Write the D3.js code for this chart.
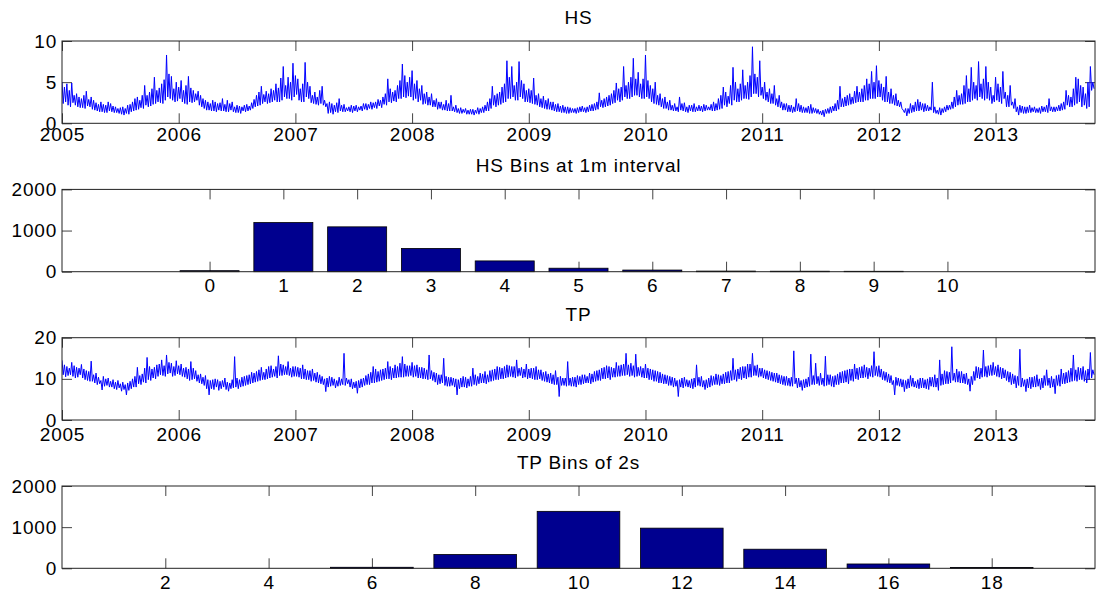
<!DOCTYPE html>
<html>
<head>
<meta charset="utf-8">
<script src="https://cdn.jsdelivr.net/npm/d3@7"></script>
<style>
  body { margin: 0; background: #fff; }
  text { font-family: "Liberation Sans", Arial, sans-serif; font-size: 19px; fill: #000; letter-spacing: 0.8px; }
</style>
</head>
<body>
<svg id="chart"></svg>
<script>
// values: 48 readings a year, plus a second set of
// readings of the same weeks (the "b" arrays), so 96 a year in all
var years = [2005, 2006, 2007, 2008, 2009, 2010, 2011, 2012, 2013];

var hs2005 = [5.0,2.6,4.8,2.0,4.9,2.2,3.6,1.9, 3.0,1.8,3.9,2.0,3.2,1.6,2.5,1.4, 2.6,1.3,2.2,1.5,2.4,1.3,2.0,1.2, 1.9,1.0,1.8,1.1,2.3,1.5,3.0,1.7, 2.8,1.8,4.6,2.0,3.8,2.3,5.6,2.6, 4.3,2.4,5.3,8.3,3.0,5.7,2.6,5.0];
var hs2006 = [3.0,5.2,2.4,4.6,5.7,2.5,4.0,2.8, 3.9,2.0,3.0,1.6,2.6,1.5,2.8,1.4, 2.4,1.5,3.0,1.4,2.8,1.6,2.6,1.3, 2.2,1.2,2.0,1.4,2.3,1.6,2.5,2.0, 3.4,2.2,4.5,2.6,3.9,2.5,4.2,2.8, 4.8,2.6,5.5,6.9,3.0,5.6,2.8,7.3];
var hs2007 = [3.5,5.4,2.6,4.8,7.4,3.0,4.5,2.4, 3.8,2.2,4.0,4.5,2.0,1.2,2.6,1.1, 2.2,1.3,3.0,1.4,2.3,1.5,2.0,1.3, 2.1,1.4,2.0,1.5,2.4,1.6,2.3,1.7, 2.5,1.8,2.9,1.9,3.2,2.2,5.4,2.5, 3.8,2.6,4.6,3.0,7.2,3.1,5.0,3.2];
var hs2008 = [6.4,3.0,5.2,2.8,4.6,2.4,3.8,2.2, 3.6,2.0,3.0,1.8,2.6,1.6,2.8,1.5, 3.4,1.4,2.2,1.2,1.9,1.3,1.8,1.1, 1.7,1.0,1.6,1.1,1.8,1.3,2.2,1.5, 3.0,4.5,2.0,3.6,2.3,4.4,2.6,7.6, 3.0,6.9,2.8,5.0,7.5,3.0,4.8,2.6];
var hs2009 = [4.2,2.4,5.5,2.2,3.6,1.9,3.3,1.7, 3.0,1.6,2.6,1.4,2.4,1.3,2.2,1.2, 2.0,1.3,1.8,1.2,1.9,1.4,2.1,1.3, 2.0,1.5,2.3,1.6,2.6,3.7,1.9,3.0, 2.1,3.4,2.4,4.0,4.9,2.6,4.4,6.9, 3.0,5.0,3.2,7.9,3.4,6.2,3.0,5.4];
var hs2010 = [8.3,3.0,4.6,2.4,5.0,2.2,3.6,1.8, 3.2,1.6,2.8,1.5,2.4,1.4,3.2,1.5, 2.5,1.3,2.2,1.4,2.4,1.5,2.2,1.4, 2.3,1.6,2.0,1.5,2.6,1.6,3.0,1.8, 4.4,2.0,3.3,2.2,6.8,2.6,4.2,2.8, 6.5,3.0,5.0,3.2,9.3,3.6,5.6,7.6];
var hs2011 = [3.0,5.0,2.6,4.2,2.4,4.6,2.0,3.4, 1.6,2.4,1.4,2.2,1.3,2.0,3.0,1.4, 2.2,1.3,1.9,1.2,2.3,1.3,1.8,1.1, 1.5,0.8,1.7,1.2,2.0,1.5,2.4,1.7, 4.5,2.0,3.2,2.2,3.6,2.4,3.9,4.5, 2.6,4.2,2.8,5.4,3.0,6.3,3.0,7.0];
var hs2012 = [3.2,4.8,2.6,5.7,2.4,4.2,2.2,3.6, 2.0,2.6,1.3,0.9,1.8,1.3,2.2,1.5, 2.9,1.6,2.4,1.5,2.2,1.6,5.0,1.2, 1.6,1.0,1.8,1.4,2.2,1.7,2.6,2.0, 4.0,2.3,3.6,2.4,5.8,2.6,6.8,3.0, 4.6,7.5,3.0,5.4,6.9,2.8,4.4,2.6];
var hs2013 = [5.6,2.6,4.4,6.3,2.0,3.4,4.6,1.8, 3.0,1.0,2.2,1.2,2.0,1.3,2.2,1.4, 2.0,1.3,1.9,1.4,2.0,1.3,3.0,1.4, 2.0,1.5,2.2,1.6,2.6,4.0,2.0,3.2, 2.2,5.6,5.4,2.0,4.4,1.8,5.0,6.9, 5.0];

var hs2005b = [2.4,4.4,2.2,4.0,2.5,3.4,2.0,3.2, 1.9,3.4,2.1,2.9,1.7,2.8,1.5,2.3, 1.4,2.3,1.3,2.6,1.4,2.1,1.3,1.8, 1.1,2.0,1.2,2.2,1.4,2.6,1.6,3.2, 1.9,3.4,2.2,3.4,2.1,4.2,2.4,4.0, 2.5,4.8,2.8,3.2,6.0,2.8,4.2,2.7];
var hs2006b = [4.4,2.6,4.0,2.3,2.6,4.3,2.6,3.6, 2.2,3.4,1.8,2.8,1.6,2.4,1.5,2.6, 1.6,2.5,1.5,2.3,1.4,2.4,1.4,2.0, 1.3,2.1,1.5,2.2,1.5,2.1,1.8,2.9, 2.1,3.8,2.4,3.5,2.4,3.6,2.6,4.0, 2.6,4.3,2.8,3.2,4.6,3.0,5.0,3.2];
var hs2007b = [5.8,2.8,4.2,2.6,3.2,5.0,2.5,3.4, 2.3,3.2,2.4,2.2,2.8,2.4,1.3,2.4, 1.4,2.5,1.5,2.2,1.4,1.9,1.4,2.2, 1.5,2.2,1.6,2.1,1.7,2.4,1.8,2.6, 1.9,2.6,2.1,2.8,2.3,3.6,2.6,4.2, 2.7,4.0,3.0,5.2,3.2,5.8,3.3,5.6];
var hs2008b = [2.8,4.8,2.6,4.2,2.3,3.6,2.2,3.2, 2.0,2.8,1.7,2.6,1.6,2.3,1.5,2.4, 1.5,2.0,1.3,1.8,1.2,1.7,1.1,1.6, 1.1,1.7,1.2,1.9,1.3,2.0,1.5,2.6, 1.8,2.2,3.4,2.2,3.8,2.5,4.8,3.0, 5.6,3.2,4.6,2.8,3.2,5.2,2.6,4.0];
var hs2009b = [2.5,4.0,2.3,3.4,2.0,3.0,1.8,2.8, 1.7,2.6,1.5,2.3,1.4,2.1,1.3,2.0, 1.2,1.9,1.3,1.8,1.3,2.0,1.4,1.9, 1.4,2.2,1.5,2.4,1.7,2.0,2.8,2.0, 3.2,2.2,3.6,2.5,2.8,4.2,2.8,3.2, 4.6,3.0,5.6,3.4,5.4,3.2,4.8,3.0];
var hs2010b = [3.2,5.2,2.6,4.2,2.3,3.4,2.0,3.0, 1.8,2.6,1.6,2.2,1.5,2.0,1.6,2.4, 1.4,2.0,1.5,2.2,1.4,2.0,1.5,2.1, 1.5,2.2,1.6,2.3,1.5,2.4,1.7,3.4, 2.2,3.8,2.4,4.6,2.8,5.0,2.6,4.8, 3.0,4.6,2.9,5.8,3.6,6.0,3.2,3.4];
var hs2011b = [4.4,2.8,3.8,2.4,3.6,2.2,3.0,1.9, 2.6,1.6,2.4,1.4,2.2,1.4,1.5,2.4, 1.3,2.0,1.3,2.1,1.2,1.9,1.2,1.7, 1.0,1.6,1.2,1.8,1.3,2.1,1.5,2.8, 2.0,3.0,2.1,3.4,2.3,3.2,2.5,2.6, 3.8,2.6,4.6,2.8,4.8,3.0,5.0,3.2];
var hs2012b = [5.2,2.8,4.4,2.6,3.8,2.4,3.4,2.1, 2.8,1.8,1.6,1.8,1.2,2.4,1.4,2.6, 1.5,2.6,1.4,2.4,1.5,2.0,1.3,2.0, 1.1,1.9,1.3,2.0,1.6,2.2,1.8,3.2, 2.2,3.4,2.3,4.6,2.6,4.2,2.8,5.0, 2.8,3.2,4.8,2.8,3.0,5.0,2.4,3.4];
var hs2013b = [2.8,4.8,2.4,3.0,3.8,2.0,2.2,2.6, 1.4,2.0,1.3,2.1,1.2,2.0,1.3,1.9, 1.3,1.8,1.2,2.1,1.4,2.2,1.5,2.0, 1.4,2.0,1.5,2.4,1.7,2.2,3.4,2.0, 4.2,2.4,2.6,4.6,2.2,3.6,2.0,4.0, 4.2];

var tp2005 = [14.5,10.5,13.0,11.0,14.0,10.2,12.8,11.0, 13.5,9.8,12.0,9.4,14.3,9.0,11.4,8.8, 7.3,10.6,8.4,10.2,8.0,9.8,7.4,9.6, 7.0,9.2,6.1,9.0,7.6,10.0,8.0,12.8, 8.6,11.2,9.0,15.2,9.6,12.4,10.0,13.4, 11.0,14.6,10.6,15.8,11.4,13.8,10.8,14.4];
var tp2006 = [11.0,13.6,10.4,12.8,9.6,14.2,10.0,12.0, 9.0,11.2,8.4,10.8,6.1,9.6,7.4,10.0, 7.2,9.4,8.0,10.2,7.0,9.0,7.8,15.4, 7.6,9.8,8.2,10.6,8.6,11.0,9.0,11.4, 9.4,12.2,9.8,11.6,10.0,13.0,10.4,12.4, 10.2,15.6,10.8,13.4,11.0,14.2,10.4,13.0];
var tp2007 = [10.6,12.8,10.0,13.4,9.8,12.0,9.4,12.4, 9.2,11.6,8.8,10.6,6.9,10.2,8.2,10.4, 7.8,9.6,8.4,10.0,16.2,8.8,9.8,7.6, 9.2,6.5,9.6,8.0,10.2,8.6,11.2,9.0, 13.0,9.2,11.8,9.6,12.4,10.0,14.2,9.8, 12.6,10.2,13.0,10.4,15.4,10.6,13.2,10.8];
var tp2008 = [14.0,10.6,13.4,10.2,12.8,10.0,12.2,15.8, 9.6,11.6,8.6,11.0,9.0,15.0,8.2,10.4, 8.4,10.2,6.1,9.8,8.0,10.6,7.8,10.0, 8.2,12.6,8.4,10.6,9.0,11.2,8.8,11.0, 9.4,12.2,9.8,13.0,10.0,12.6,10.2,13.4, 10.6,13.0,10.2,14.6,10.8,12.8,10.4,13.6];
var tp2009 = [10.2,12.6,9.8,13.0,10.0,12.2,9.4,11.8, 9.0,11.4,8.6,12.0,5.7,10.6,8.4,10.2, 14.2,8.2,10.4,8.0,10.8,8.6,11.0,9.0, 10.6,8.8,11.2,9.4,12.0,9.6,12.6,10.0, 13.2,9.8,12.8,10.4,14.0,10.6,13.4,10.8, 16.2,10.6,13.8,10.4,16.0,10.8,13.0,10.2];
var tp2010 = [13.6,9.8,12.4,9.4,12.0,9.0,11.6,8.8, 11.0,8.4,10.6,8.0,10.2,5.7,9.8,7.8, 10.4,8.0,9.6,7.6,10.2,13.4,8.2,10.6, 7.4,9.8,8.0,10.8,8.6,11.2,8.4,10.8, 8.8,11.6,9.0,12.0,15.0,9.4,12.4,9.8, 13.0,10.0,13.6,10.4,16.2,10.8,13.4,10.6];
var tp2011 = [12.6,10.0,12.0,9.6,11.6,9.2,11.4,8.8, 10.8,8.4,10.6,8.2,10.4,16.8,7.8,10.2, 7.2,9.8,8.0,10.4,16.0,8.6,13.8,8.4, 11.4,8.2,15.5,8.6,11.0,8.0,10.8,8.6, 11.6,9.0,12.0,8.8,12.4,9.4,13.6,9.8, 12.8,10.2,13.4,10.0,12.6,10.4,16.6,10.6];
var tp2012 = [13.2,9.8,11.8,9.2,11.2,8.6,6.1,10.4, 8.2,10.0,6.9,9.6,7.8,10.8,8.0,9.4, 7.6,10.2,7.8,9.8,7.4,10.4,8.0,11.0, 7.2,14.6,8.6,12.0,8.8,11.6,17.8,9.2, 12.4,9.0,11.8,8.8,11.4,7.0,10.6,9.6, 13.0,10.0,12.6,17.0,10.4,13.2,10.8,14.0];
var tp2013 = [10.6,13.4,10.0,12.6,9.6,11.8,8.6,11.2, 7.8,10.6,17.2,8.2,6.9,10.0,7.6,10.4, 8.0,11.0,7.4,10.2,8.4,12.2,7.8,10.6, 6.4,10.8,8.2,12.4,8.8,11.6,9.2,12.6, 15.8,9.4,12.8,9.8,13.0,9.0,12.4,16.4, 11.0];

var tp2005b = [11.0,13.4,10.8,12.6,10.6,13.2,10.4,12.6, 10.2,12.4,9.6,11.8,9.4,11.0,8.6,10.4, 9.6,8.2,10.0,8.0,9.4,7.6,9.2,7.8, 8.8,7.4,8.6,7.2,9.4,8.0,10.6,8.8, 10.8,9.2,12.6,9.8,13.0,10.2,12.8,10.6, 13.6,10.8,13.2,11.2,14.0,10.6,13.0,11.2];
var tp2006b = [13.2,10.6,12.6,10.0,12.4,9.8,12.6,9.4, 11.0,8.8,10.4,7.6,9.8,7.6,9.8,8.0, 9.8,7.6,9.6,7.4,9.2,7.6,9.8,8.0, 10.2,8.0,10.4,8.4,10.8,8.8,11.6,9.2, 11.8,9.6,12.8,9.8,12.4,10.2,13.2,10.6, 13.0,10.8,13.6,11.0,13.0,10.8,12.6,10.6];
var tp2007b = [13.0,10.4,12.6,10.0,12.4,9.8,12.0,9.6, 11.4,9.0,11.0,8.6,10.0,8.0,10.6,8.4, 10.0,8.2,10.4,8.6,8.4,10.2,8.0,10.0, 7.8,9.4,7.8,10.0,8.4,10.8,8.6,11.6, 9.0,12.4,9.4,12.2,9.8,12.6,10.0,13.0, 10.2,13.4,10.4,13.8,10.4,13.6,10.6,13.2];
var tp2008b = [10.4,13.2,10.2,12.8,10.0,12.6,9.8,10.0, 12.0,9.2,11.4,8.8,11.0,8.4,10.6,8.2, 10.4,8.0,10.0,7.6,10.2,8.0,10.4,8.2, 10.6,8.6,11.0,8.8,11.4,9.0,11.8,9.2, 12.0,9.6,12.4,9.8,12.8,10.0,13.0,10.4, 13.2,10.4,13.0,10.6,12.6,10.2,12.4,10.0];
var tp2009b = [12.4,10.0,12.6,9.8,12.2,9.6,11.6,9.2, 11.2,8.8,11.0,8.6,10.4,8.4,10.2,8.2, 8.4,10.2,8.2,10.4,8.6,10.6,8.8,11.0, 9.0,11.4,9.2,11.8,9.6,12.2,10.0,12.8, 10.2,13.0,10.4,12.6,10.6,13.2,10.8,13.6, 11.0,13.4,10.8,13.2,10.6,12.8,10.4,12.6];
var tp2010b = [10.2,12.6,9.8,12.2,9.4,11.8,9.0,11.2, 8.8,10.8,8.4,10.4,8.2,9.6,8.0,10.2, 8.2,9.8,7.8,10.0,8.0,8.4,10.4,8.0, 9.6,7.8,10.2,8.4,10.6,8.6,11.0,8.8, 11.2,9.0,11.8,9.6,9.8,12.2,10.0,12.8, 10.2,13.0,10.4,13.6,10.8,13.2,10.4,12.6];
var tp2011b = [10.2,12.2,9.8,11.8,9.4,11.4,9.0,11.0, 8.6,10.6,8.4,10.2,8.2,8.8,10.2,8.0, 9.6,7.8,10.0,8.2,8.6,10.8,8.8,10.6, 8.6,10.2,8.4,11.0,8.2,10.6,8.6,11.2, 9.0,11.8,9.2,12.2,9.6,12.4,10.0,12.6, 10.2,13.0,10.4,12.8,10.6,13.2,10.8,13.0];
var tp2012b = [10.4,12.4,9.6,11.6,9.0,10.8,9.6,8.4, 10.2,8.0,9.8,7.6,10.0,8.2,10.2,7.8, 9.8,7.8,10.2,7.6,10.0,8.2,10.4,8.0, 10.2,8.4,11.2,8.8,11.8,9.0,9.6,11.4, 9.2,11.8,9.0,11.2,8.6,10.0,8.6,11.8, 10.2,12.8,10.4,10.6,13.0,10.8,13.4,11.0];
var tp2013b = [13.0,10.4,12.8,10.2,12.2,9.2,11.6,8.8, 10.8,8.4,8.0,10.2,9.8,7.8,10.4,8.0, 10.6,8.2,10.0,7.8,10.8,8.4,10.2,8.0, 10.0,8.4,11.0,8.8,11.4,9.0,12.0,9.4, 9.6,12.2,9.8,12.6,9.4,12.0,9.8,10.2, 12.2];

var hsBins = [0, 1, 2, 3, 4, 5, 6, 7, 8, 9, 10];
var hsCounts = [25, 1195, 1090, 566, 262, 85, 40, 15, 12, 10, 0];
var tpBins = [2, 4, 6, 8, 10, 12, 14, 16, 18];
var tpCounts = [0, 0, 25, 336, 1384, 976, 464, 105, 22];

var hsTicks = [0, 5, 10];
var tpTicks = [0, 10, 20];
var countTicks = [0, 1000, 2000];

var W = 1098, H = 598;
var left = 62, right = 1095, ph = 82.3;
var tops = [41, 189.4, 337.7, 486];
var tick = 10;

var svg = d3.select("#chart").attr("width", W).attr("height", H);
svg.append("rect").attr("width", W).attr("height", H).attr("fill", "#fff");

// two readings per week: the peak first, then the trough half a week later
function toSeries(arrs, arrsB) {
  var out = [];
  arrs.forEach(function(a, k) {
    a.forEach(function(v, i) {
      var w = arrsB[k][i];
      out.push({t: years[k] + i / 48, v: Math.max(v, w)});
      out.push({t: years[k] + (i + 0.5) / 48, v: Math.min(v, w)});
    });
  });
  return out;
}
var hsData = toSeries([hs2005, hs2006, hs2007, hs2008, hs2009, hs2010, hs2011, hs2012, hs2013],
                      [hs2005b, hs2006b, hs2007b, hs2008b, hs2009b, hs2010b, hs2011b, hs2012b, hs2013b]);
var tpData = toSeries([tp2005, tp2006, tp2007, tp2008, tp2009, tp2010, tp2011, tp2012, tp2013],
                      [tp2005b, tp2006b, tp2007b, tp2008b, tp2009b, tp2010b, tp2011b, tp2012b, tp2013b]);

function frame(top, x, y, xticks, yticks, title, idx, xpad) {
  var g = svg.append("g");
  var bottom = top + ph;

  g.append("g").attr("transform", "translate(0," + bottom + ")")
    .call(d3.axisBottom(x).tickValues(xticks).tickSize(-tick).tickPadding(xpad).tickFormat(d3.format("d")))
    .call(function(a) { a.select(".domain").remove(); });
  g.append("g").attr("transform", "translate(0," + top + ")")
    .call(d3.axisTop(x).tickValues(xticks).tickSize(-tick).tickFormat(""))
    .call(function(a) { a.select(".domain").remove(); });
  g.append("g").attr("transform", "translate(" + left + ",0)")
    .call(d3.axisLeft(y).tickValues(yticks).tickSize(-tick).tickPadding(5).tickFormat(d3.format("d")))
    .call(function(a) { a.select(".domain").remove(); });
  g.append("g").attr("transform", "translate(" + right + ",0)")
    .call(d3.axisRight(y).tickValues(yticks).tickSize(-tick).tickFormat(""))
    .call(function(a) { a.select(".domain").remove(); });

  g.selectAll(".tick line").attr("stroke", "#444");
  g.selectAll("text").attr("font-size", null).attr("font-family", null);

  svg.append("text").attr("x", (left + right) / 2).attr("y", top - 17)
    .attr("text-anchor", "middle").text(title);

  svg.append("clipPath").attr("id", "clip" + idx)
    .append("rect").attr("x", left).attr("y", top).attr("width", right - left).attr("height", ph);
  return g;
}

function box(top) {
  svg.append("rect").attr("x", left).attr("y", top).attr("width", right - left).attr("height", ph)
    .attr("fill", "none").attr("stroke", "#222").attr("stroke-width", 1);
}

function linePanel(top, data, ymax, yticks, title, idx, xpad) {
  var x = d3.scaleLinear().domain([2005, 2013.852]).range([left, right]);
  var y = d3.scaleLinear().domain([0, ymax]).range([top + ph, top]);
  frame(top, x, y, years, yticks, title, idx, xpad);
  var line = d3.line().x(function(d) { return x(d.t); }).y(function(d) { return y(d.v); });
  svg.append("path").datum(data)
    .attr("clip-path", "url(#clip" + idx + ")")
    .attr("d", line)
    .attr("fill", "none")
    .attr("stroke", "#0000ff")
    .attr("stroke-width", 1);
  box(top);
}

function barPanel(top, bins, counts, xdom, bw, title, idx) {
  var x = d3.scaleLinear().domain(xdom).range([left, right]);
  var y = d3.scaleLinear().domain([0, 2000]).range([top + ph, top]);
  frame(top, x, y, bins, countTicks, title, idx, 7);
  svg.append("g").selectAll("rect").data(bins).join("rect")
    .attr("x", function(d) { return x(d - bw / 2); })
    .attr("width", function(d) { return x(d + bw / 2) - x(d - bw / 2); })
    .attr("y", function(d, i) { return y(counts[i]); })
    .attr("height", function(d, i) { return y(0) - y(counts[i]); })
    .attr("fill", "#00008f")
    .attr("stroke", "#000")
    .attr("stroke-width", 0.8);
  box(top);
}

linePanel(tops[0], hsData, 10, hsTicks, "HS", 0, 4);
barPanel(tops[1], hsBins, hsCounts, [-2, 12], 0.8, "HS Bins at 1m interval", 1);
linePanel(tops[2], tpData, 20, tpTicks, "TP", 2, 8);
barPanel(tops[3], tpBins, tpCounts, [0, 20], 1.6, "TP Bins of 2s", 3);
</script>
</body>
</html>
